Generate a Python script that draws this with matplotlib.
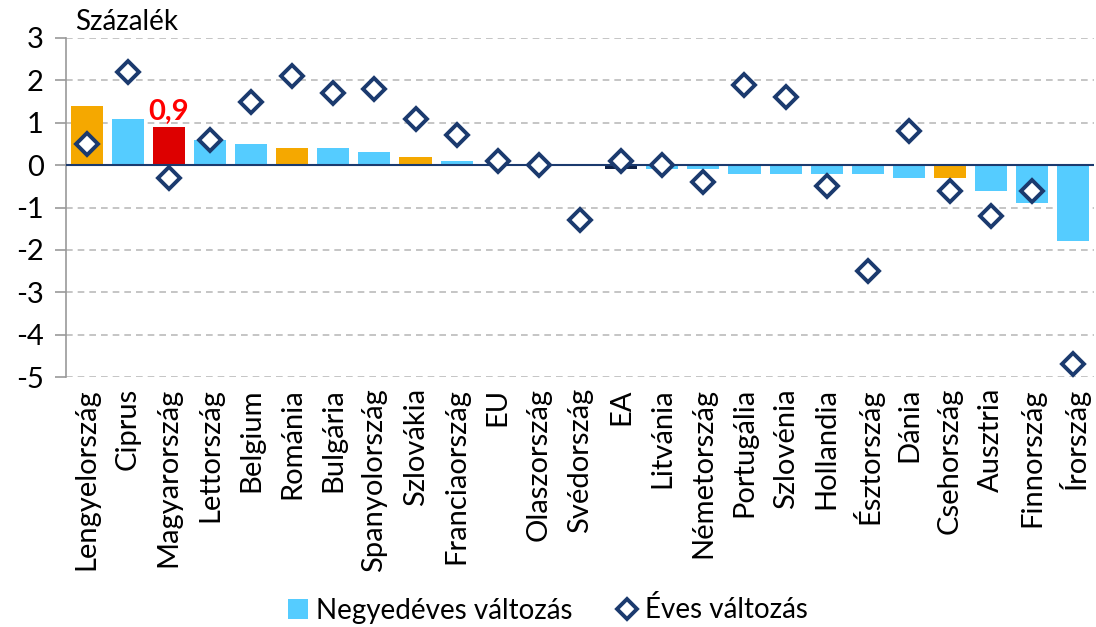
import matplotlib
matplotlib.use("Agg")
import matplotlib.pyplot as plt
from matplotlib.lines import Line2D
from matplotlib.patches import Patch

plt.rcParams['font.family'] = ['Lato', 'DejaVu Sans']

countries = ["Lengyelország", "Ciprus", "Magyarország", "Lettország", "Belgium", "Románia",
             "Bulgária", "Spanyolország", "Szlovákia", "Franciaország", "EU", "Olaszország",
             "Svédország", "EA", "Litvánia", "Németország", "Portugália", "Szlovénia",
             "Hollandia", "Észtország", "Dánia", "Csehország", "Ausztria", "Finnország", "Írország"]
quarterly = [1.4, 1.1, 0.9, 0.6, 0.5, 0.4, 0.4, 0.3, 0.2, 0.1, 0.0, 0.0,
             0.0, -0.1, -0.1, -0.1, -0.2, -0.2, -0.2, -0.2, -0.3, -0.3, -0.6, -0.9, -1.8]
annual = [0.5, 2.2, -0.3, 0.6, 1.5, 2.1, 1.7, 1.8, 1.1, 0.7, 0.1, 0.0,
          -1.3, 0.1, 0.0, -0.4, 1.9, 1.6, -0.5, -2.5, 0.8, -0.6, -1.2, -0.6, -4.7]
bar_groups = ["orange", "blue", "red", "blue", "blue", "orange", "blue", "blue", "orange", "blue",
              "blue", "blue", "blue", "dark", "blue", "blue", "blue", "blue", "blue", "blue",
              "blue", "orange", "blue", "blue", "blue"]
yticks = [3, 2, 1, 0, -1, -2, -3, -4, -5]

palette = {"blue": "#55CCFF", "orange": "#F5A800", "red": "#DD0000", "dark": "#0E2147"}
navy = "#1B3A6E"

fig = plt.figure(figsize=(10.96, 6.27), dpi=100)
ax = fig.add_axes([66/1096, 1-377/627, (1094-66)/1096, (377-38)/627])

x = list(range(len(countries)))
ax.bar(x, quarterly, width=0.78, color=[palette[g] for g in bar_groups], zorder=2)

for yv in yticks:
    if yv != 0:
        ax.axhline(yv, color="#BBBBBB", lw=1.2, ls=(0, (4, 3)), zorder=1)
ax.axhline(0, color=navy, lw=1.5, zorder=3)

ax.plot(x, annual, ls="none", marker="D", markersize=11, markerfacecolor="white",
        markeredgecolor=navy, markeredgewidth=2.8, zorder=4)

ax.text(2, 0.9 + 0.06, "0,9", color="#FF0000", fontweight="bold", fontsize=21,
        ha="center", va="bottom", zorder=5)

ax.set_xlim(-0.5, len(countries) - 0.5)
ax.set_ylim(-5, 3)
ax.set_yticks(yticks)
ax.set_yticklabels([str(v) for v in yticks], fontsize=21)
ax.set_xticks(x)
ax.set_xticklabels(countries, rotation=90, fontsize=21)
ax.tick_params(axis="x", length=0, pad=8)
ax.tick_params(axis="y", length=8, width=1.2, color="#999999", direction="out", pad=8)

for s in ["top", "right", "bottom"]:
    ax.spines[s].set_visible(False)
ax.spines["left"].set_color("#999999")
ax.spines["left"].set_linewidth(1.2)

fig.text(75/1096, 1-22/627, "Százalék", fontsize=20, ha="left", va="center")

handles = [Patch(facecolor=palette["blue"], edgecolor="none"),
           Line2D([], [], ls="none", marker="D", markersize=10, markerfacecolor="white",
                  markeredgecolor=navy, markeredgewidth=2.8)]
fig.legend(handles, ["Negyedéves változás", "Éves változás"], loc="center",
           bbox_to_anchor=(548/1096, 1-610/627), ncol=2, frameon=False, fontsize=20,
           handlelength=0.7, handletextpad=0.3, columnspacing=1.6)

fig.savefig("out.png", dpi=100)
